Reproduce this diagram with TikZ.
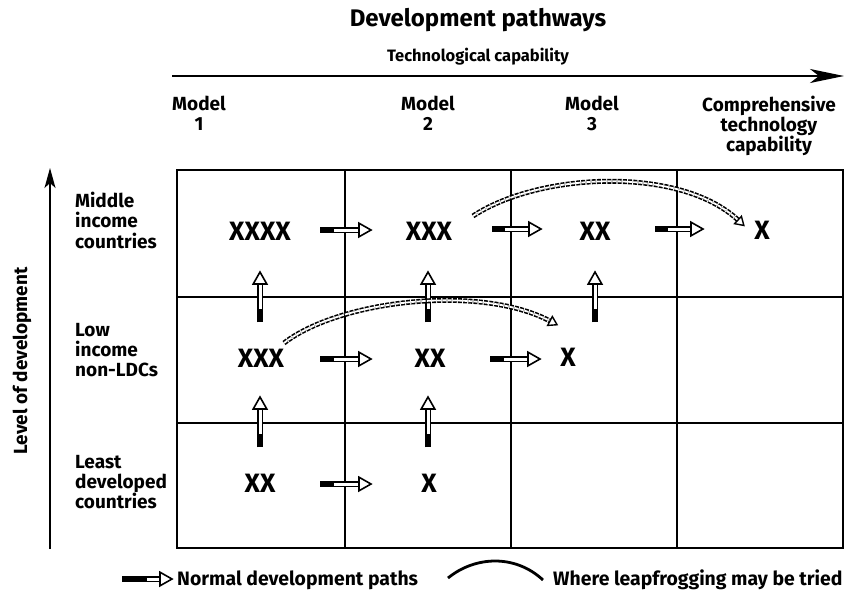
\documentclass[tikz,border=0pt]{standalone}
\usepackage{fontspec}
\setmainfont{Fira Sans}
\usetikzlibrary{arrows.meta,calc}

% normal development path: black rod, hollow shaft, open triangle head
\newcommand\devpath[3][0.27]{%
  \coordinate (dpH) at ($(#3)!12pt!(#2)$);
  \draw[line width=1.5pt, double=white, double distance=3pt] (#2) -- (dpH);
  \draw[line width=6pt] (#2) -- ($(#2)!#1!(#3)$);
  \draw[line width=1.6pt, fill=white, line join=miter]
    (#3) -- ($(dpH)!6.8pt!90:(#3)$) -- ($(dpH)!6.8pt!-90:(#3)$) -- cycle;
}
% leapfrog: dashed double curve with open head
\newcommand\leap[4]{%
  \coordinate (lpT) at ($(#4)!-8pt!(#3)$);
  \draw[line width=1.6pt, double=white, double distance=1.8pt, dash pattern=on 4pt off 1.2pt]
    (#1) .. controls (#2) and (#3) .. (#4);
  \draw[line width=1.4pt, fill=white, line join=miter]
    (lpT) -- ($(#4)!5pt!90:(lpT)$) -- ($(#4)!5pt!-90:(lpT)$) -- cycle;
}

\begin{document}
\begin{tikzpicture}[x=1pt,y=-1pt,
  lab/.style={font=\bfseries\fontsize{19}{20.2}\selectfont, align=left, anchor=north west, inner sep=0pt},
  hdr/.style={font=\bfseries\fontsize{19}{19.5}\selectfont, align=center, anchor=north, inner sep=0pt},
  xx/.style={font=\bfseries\fontsize{26.5}{27}\selectfont, inner sep=0pt},
  gridline/.style={line width=1.6pt},
  axis/.style={line width=1.6pt},
  legtext/.style={font=\bfseries\fontsize{19.4}{21}\selectfont, anchor=base west, inner sep=0pt}]
\useasboundingbox (0,0) rectangle (845,589);

% titles
\node[font=\bfseries\fontsize{24}{28}\selectfont] (title) at (478,20) {Development pathways};
\node[font=\bfseries\fontsize{16.5}{19}\selectfont] (tech) at (478,57) {Technological capability};
\coordinate (h0) at (172,76);
\coordinate (h1) at (844,76);
\draw[axis,-{Stealth[length=34pt,width=14pt,inset=9pt]}] (h0) -- (h1);

% column headers
\node[hdr] (m1) at (199,96) {Model\\1};
\node[hdr] (m2) at (428,96) {Model\\2};
\node[hdr] (m3) at (592,96) {Model\\3};
\node[hdr] (cmp) at (769,96) {Comprehensive\\technology\\capability};

% grid
\draw[gridline] (177,170) rectangle (843,548);
\draw[gridline] (345,170) -- (345,548);
\draw[gridline] (511,170) -- (511,548);
\draw[gridline] (677,170) -- (677,548);
\draw[gridline] (177,297) -- (843,297);
\draw[gridline] (177,423) -- (843,423);

% vertical axis
\coordinate (v0) at (50,549);
\coordinate (v1) at (50,168);
\draw[axis,-{Stealth[length=20pt,width=11pt,inset=5pt]}] (v0) -- (v1);
\node[rotate=90, font=\bfseries\fontsize{19}{20}\selectfont] (lvl) at (22,361) {Level of development};

% row labels
\node[lab] (r1) at (75,192) {Middle\\income\\countries};
\node[lab] (r2) at (75,323) {Low\\income\\non-LDCs};
\node[lab] (r3) at (75,455) {Least\\developed\\countries};

% cell entries
\node[xx] (a1) at (260,231) {XXXX};
\node[xx] (a2) at (429,231) {XXX};
\node[xx] (a3) at (595,231) {XX};
\node[xx] (a4) at (762,230) {X};
\node[xx] (b1) at (261,358) {XXX};
\node[xx] (b2) at (430,358) {XX};
\node[xx] (b3) at (568,357) {X};
\node[xx] (c1) at (260,483) {XX};
\node[xx] (c2) at (429,483) {X};

% horizontal normal paths
\coordinate (p1s) at (320,230); \coordinate (p1e) at (371,230);
\coordinate (p2s) at (492,229); \coordinate (p2e) at (541,229);
\coordinate (p3s) at (655,229); \coordinate (p3e) at (703,229);
\coordinate (q1s) at (320,359); \coordinate (q1e) at (371,359);
\coordinate (q2s) at (490,359); \coordinate (q2e) at (540,359);
\coordinate (s1s) at (320,484); \coordinate (s1e) at (371,484);
\devpath{p1s}{p1e}
\devpath{p2s}{p2e}
\devpath{p3s}{p3e}
\devpath{q1s}{q1e}
\devpath{q2s}{q2e}
\devpath{s1s}{s1e}

% vertical normal paths
\coordinate (u1s) at (260,322); \coordinate (u1e) at (260,272);
\coordinate (u2s) at (428,322); \coordinate (u2e) at (428,272);
\coordinate (u3s) at (595,322); \coordinate (u3e) at (595,272);
\coordinate (w1s) at (260,447); \coordinate (w1e) at (260,397);
\coordinate (w2s) at (428,447); \coordinate (w2e) at (428,397);
\devpath{u1s}{u1e}
\devpath{u2s}{u2e}
\devpath{u3s}{u3e}
\devpath{w1s}{w1e}
\devpath{w2s}{w2e}

% leapfrogging arcs
\coordinate (L1a) at (473,216); \coordinate (L1b) at (540,172);
\coordinate (L1c) at (680,166); \coordinate (L1d) at (738,220);
\leap{L1a}{L1b}{L1c}{L1d}
\coordinate (L2a) at (284,343); \coordinate (L2b) at (340,300);
\coordinate (L2c) at (480,284); \coordinate (L2d) at (550,321);
\leap{L2a}{L2b}{L2c}{L2d}

% legend
\coordinate (g0) at (122,579); \coordinate (g1) at (172,579);
\devpath[0.5]{g0}{g1}
\node[legtext] (gt1) at (177,585) {Normal development paths};
\coordinate (k0) at (448,578); \coordinate (k1) at (543,580);
\draw[line width=2.8pt] (k0) .. controls (475,556) and (515,554) .. (k1);
\node[legtext] (gt2) at (553,585) {Where leapfrogging may be tried};
\end{tikzpicture}
\end{document}
